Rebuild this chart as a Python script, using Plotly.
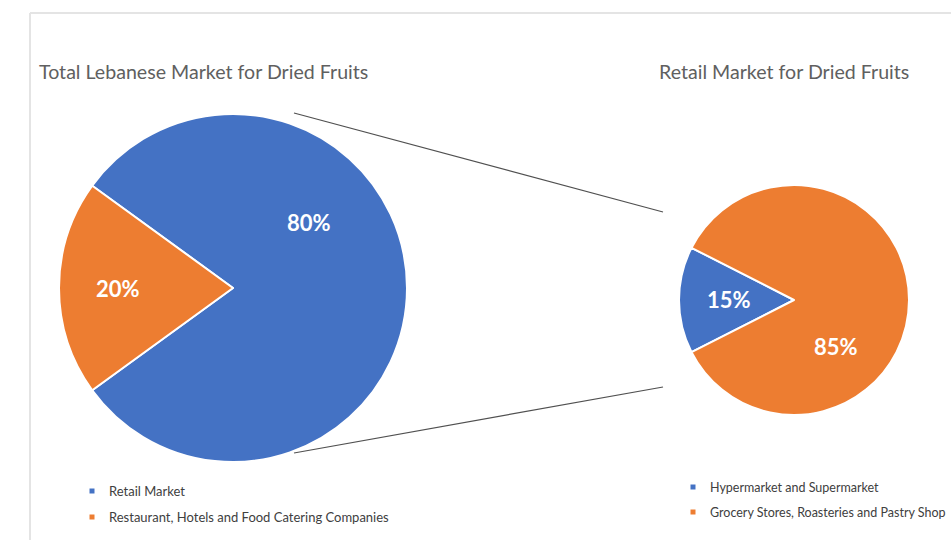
import plotly.graph_objects as go

W, H = 951, 540

# Market split data
total_labels = ["Retail Market", "Restaurant, Hotels and Food Catering Companies"]
total_values = [80, 20]
retail_labels = ["Hypermarket and Supermarket", "Grocery Stores, Roasteries and Pastry Shop"]
retail_values = [15, 85]

BLUE = "#4472C4"
ORANGE = "#ED7D31"
pie_colors = [BLUE, ORANGE]
FONT = "Lato, 'Open Sans', sans-serif"


def px(x):
    return x / W


def py(y):
    return 1 - y / H


def pct_text(v, vals):
    return f"{round(100 * v / sum(vals))}%"


fig = go.Figure()

# Left pie: whole market
fig.add_trace(go.Pie(
    labels=total_labels, values=total_values, sort=False,
    direction="clockwise", rotation=-54,
    marker=dict(colors=pie_colors, line=dict(color="white", width=2)),
    textinfo="none", hoverinfo="label+percent", showlegend=False,
    domain=dict(x=[px(59), px(407)], y=[py(462), py(114)]),
))

# Right pie: breakdown of the retail segment
fig.add_trace(go.Pie(
    labels=retail_labels, values=retail_values, sort=False,
    direction="clockwise", rotation=-117,
    marker=dict(colors=pie_colors, line=dict(color="white", width=2)),
    textinfo="none", hoverinfo="label+percent", showlegend=False,
    domain=dict(x=[px(679), px(909)], y=[py(415), py(185)]),
))

annotations = []
shapes = []

# Percentage labels on the slices
label_pos_total = [(309, 222), (118, 288)]
label_pos_retail = [(729, 299), (836, 346)]
for vals, positions in ((total_values, label_pos_total), (retail_values, label_pos_retail)):
    for v, (x, y) in zip(vals, positions):
        annotations.append(dict(
            x=px(x), y=py(y), xref="paper", yref="paper",
            text=f"<b>{pct_text(v, vals)}</b>", showarrow=False,
            font=dict(family=FONT, size=22, color="white"),
            xanchor="center", yanchor="middle",
        ))

# Chart titles
for text, x in (("Total Lebanese Market for Dried Fruits", 37),
                ("Retail Market for Dried Fruits", 657)):
    annotations.append(dict(
        x=px(x), y=py(71), xref="paper", yref="paper", text=text,
        showarrow=False, xanchor="left", yanchor="middle",
        font=dict(family=FONT, size=19.6, color="#606060"),
    ))

# Legends drawn as small squares + text
for labels, x0, ys, fs in ((total_labels, 92, (491, 517), 13),
                           (retail_labels, 693, (487, 512), 12.5)):
    for lab, col, y in zip(labels, pie_colors, ys):
        shapes.append(dict(
            type="rect", xref="paper", yref="paper",
            x0=px(x0 - 2.5), x1=px(x0 + 2.5), y0=py(y + 2.5), y1=py(y - 2.5),
            fillcolor=col, line=dict(width=0),
        ))
        annotations.append(dict(
            x=px(x0 + 15), y=py(y), xref="paper", yref="paper", text=lab,
            showarrow=False, xanchor="left", yanchor="middle",
            font=dict(family=FONT, size=fs, color="#404040"),
        ))

# Connector lines from the retail slice to the breakdown pie
for (x0, y0), (x1, y1) in (((294, 113), (663, 212)), ((294, 453), (663, 387))):
    shapes.append(dict(
        type="line", xref="paper", yref="paper",
        x0=px(x0), y0=py(y0), x1=px(x1), y1=py(y1),
        line=dict(color="#505050", width=1.2),
    ))

# Frame edges
shapes.append(dict(type="line", xref="paper", yref="paper",
                   x0=px(30), y0=py(13), x1=1, y1=py(13),
                   line=dict(color="#e4e4e4", width=2)))
shapes.append(dict(type="line", xref="paper", yref="paper",
                   x0=px(30), y0=py(13), x1=px(30), y1=0,
                   line=dict(color="#e4e4e4", width=2)))

fig.update_layout(
    width=W, height=H,
    margin=dict(l=0, r=0, t=0, b=0),
    paper_bgcolor="white", plot_bgcolor="white",
    annotations=annotations, shapes=shapes,
)

fig.write_html("out.html", config=dict(displayModeBar=False))
